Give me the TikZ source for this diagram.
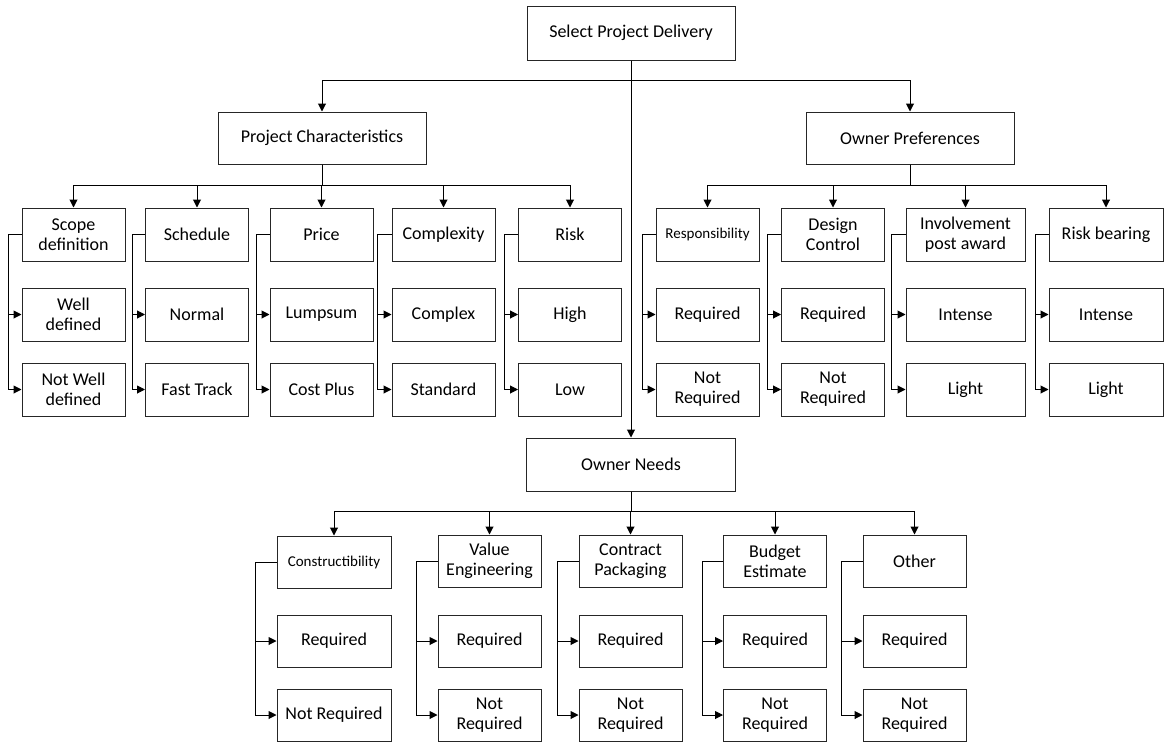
\documentclass[tikz,border=0pt]{standalone}
\usepackage{fontspec}
\setmainfont{Carlito}
\usetikzlibrary{arrows.meta}
\tikzset{
  box/.style={draw=black!85, line width=1pt, rectangle, align=center, inner sep=2pt,
    font=\fontsize{18}{20}\selectfont, minimum height=53pt},
  smallfont/.style={font=\fontsize{15}{18}\selectfont},
  arr/.style={draw=black, line width=1pt, -{Triangle[length=8pt,width=8pt]}},
}
\begin{document}
\begin{tikzpicture}[x=1pt,y=-1pt]
\useasboundingbox (0,0) rectangle (1165,742);
% top level
\node[box, minimum width=208pt, minimum height=54pt] (spd) at (631,33) {Select Project Delivery};
\node[box, minimum width=208pt, minimum height=52pt] (pc) at (322,138) {Project Characteristics};
\node[box, minimum width=208pt, minimum height=52pt] (op) at (910,138) {Owner Preferences};
\node[box, minimum width=209pt, minimum height=53pt] (on) at (631,464.5) {Owner Needs};

% project characteristics children
\node[box, minimum width=103pt] (scope) at (73.5,234.5) {Scope\\definition};
\node[box, minimum width=103pt] (well) at (73.5,314.5) {Well\\defined};
\node[box, minimum width=103pt] (notwell) at (73.5,389.5) {Not Well\\defined};

\node[box, minimum width=103pt] (sched) at (197,234.5) {Schedule};
\node[box, minimum width=103pt] (normal) at (197,314.5) {Normal};
\node[box, minimum width=103pt] (fast) at (197,389.5) {Fast Track};

\node[box, minimum width=103pt] (price) at (321.5,234.5) {Price};
\node[box, minimum width=103pt] (lump) at (321.5,314.5) {Lumpsum};
\node[box, minimum width=103pt] (cost) at (321.5,389.5) {Cost Plus};

\node[box, minimum width=103pt] (compl) at (443.5,234.5) {Complexity};
\node[box, minimum width=103pt] (complex) at (443.5,314.5) {Complex};
\node[box, minimum width=103pt] (std) at (443.5,389.5) {Standard};

\node[box, minimum width=103pt] (risk) at (570,234.5) {Risk};
\node[box, minimum width=103pt] (high) at (570,314.5) {High};
\node[box, minimum width=103pt] (low) at (570,389.5) {Low};

% owner preferences children
\node[box, smallfont, minimum width=103pt] (resp) at (707.5,234.5) {Responsibility};
\node[box, minimum width=103pt] (respreq) at (707.5,314.5) {Required};
\node[box, minimum width=103pt] (respnot) at (707.5,389.5) {Not\\Required};

\node[box, minimum width=103pt] (dc) at (833,234.5) {Design\\Control};
\node[box, minimum width=103pt] (dcreq) at (833,314.5) {Required};
\node[box, minimum width=103pt] (dcnot) at (833,389.5) {Not\\Required};

\node[box, minimum width=119pt] (inv) at (965.5,234.5) {Involvement\\post award};
\node[box, minimum width=119pt] (invint) at (965.5,314.5) {Intense};
\node[box, minimum width=119pt] (invlight) at (965.5,389.5) {Light};

\node[box, minimum width=114pt] (rb) at (1106,234.5) {Risk bearing};
\node[box, minimum width=114pt] (rbint) at (1106,314.5) {Intense};
\node[box, minimum width=114pt] (rblight) at (1106,389.5) {Light};

% owner needs children
\node[box, smallfont, minimum width=114pt, minimum height=52pt] (cons) at (334,562) {Constructibility};
\node[box, minimum width=114pt, minimum height=52pt] (consreq) at (334,641) {Required};
\node[box, minimum width=114pt, minimum height=52pt] (consnot) at (334,715) {Not Required};

\node[box, minimum width=103pt, minimum height=52pt] (ve) at (489.5,561) {Value\\Engineering};
\node[box, minimum width=103pt, minimum height=52pt] (vereq) at (489.5,641) {Required};
\node[box, minimum width=103pt, minimum height=52pt] (venot) at (489.5,715) {Not\\Required};

\node[box, minimum width=103pt, minimum height=52pt] (cp) at (630.5,561) {Contract\\Packaging};
\node[box, minimum width=103pt, minimum height=52pt] (cpreq) at (630.5,641) {Required};
\node[box, minimum width=103pt, minimum height=52pt] (cpnot) at (630.5,715) {Not\\Required};

\node[box, minimum width=103pt, minimum height=52pt] (be) at (775,561) {Budget\\Estimate};
\node[box, minimum width=103pt, minimum height=52pt] (bereq) at (775,641) {Required};
\node[box, minimum width=103pt, minimum height=52pt] (benot) at (775,715) {Not\\Required};

\node[box, minimum width=103pt, minimum height=52pt] (oth) at (914.5,561) {Other};
\node[box, minimum width=103pt, minimum height=52pt] (othreq) at (914.5,641) {Required};
\node[box, minimum width=103pt, minimum height=52pt] (othnot) at (914.5,715) {Not\\Required};

% top-level connectors
\draw[arr] (spd.south) -- (on.north);
\draw[arr] (spd.south) -- ++(0,20) -| (pc.north);
\draw[arr] (spd.south) -- ++(0,20) -| (op.north);

% project characteristics buses
\foreach \c in {scope,sched,price,compl,risk}
  \draw[arr] (pc.south) -- ++(0,21) -| (\c.north);
\foreach \c in {resp,dc,inv,rb}
  \draw[arr] (op.south) -- ++(0,21) -| (\c.north);
\foreach \c in {cons,ve,cp,be,oth}
  \draw[arr] (on.south) -- ++(0,20) -| (\c.north);

% child branches
\foreach \p/\a/\b/\d in {scope/well/notwell/13, sched/normal/fast/13, price/lump/cost/13,
  compl/complex/std/14, risk/high/low/14, resp/respreq/respnot/13, dc/dcreq/dcnot/14,
  inv/invint/invlight/14, rb/rbint/rblight/13, cons/consreq/consnot/21, ve/vereq/venot/21,
  cp/cpreq/cpnot/21, be/bereq/benot/21, oth/othreq/othnot/21}{
  \draw[arr] (\p.west) -- ++(-\d,0) |- (\a.west);
  \draw[arr] (\p.west) -- ++(-\d,0) |- (\b.west);
}
\end{tikzpicture}
\end{document}
